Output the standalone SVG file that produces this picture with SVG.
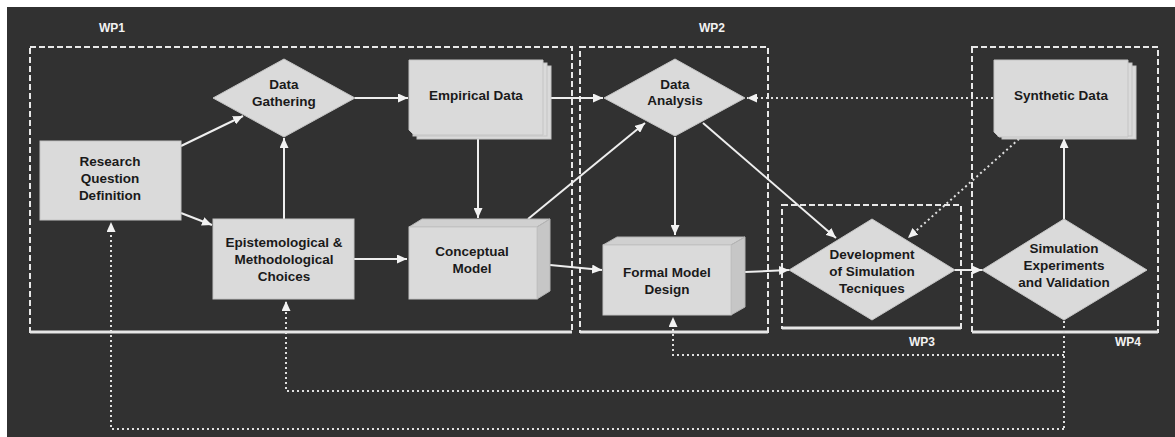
<svg xmlns="http://www.w3.org/2000/svg" width="1175" height="437" viewBox="0 0 1175 437">
<style>
.bg{fill:#313131}
.wp{fill:none;stroke:#e8e8e8;stroke-width:2;stroke-dasharray:6 3}
.wpb{stroke:#e6e6e6;stroke-width:3}
.wpl{font-family:"Liberation Sans",Arial,sans-serif;font-weight:bold;font-size:12px;fill:#f2f2f2;text-anchor:middle}
.n{fill:#dadada;stroke:#c4c4c4;stroke-width:1}
.side{fill:#c6c6c6;stroke:#b4b4b4;stroke-width:1}
.top{fill:#d0d0d0;stroke:#b4b4b4;stroke-width:1}
.t{font-family:"Liberation Sans",Arial,sans-serif;font-weight:bold;font-size:13.5px;fill:#1a1a1a;text-anchor:middle}
.c{fill:none;stroke:#eeeeee;stroke-width:2;marker-end:url(#arr)}
.d{fill:none;stroke:#e0e0e0;stroke-width:2;stroke-dasharray:2 3}
.da{fill:none;stroke:#e0e0e0;stroke-width:2;stroke-dasharray:2 3;marker-end:url(#arr)}
</style>
<defs>
<marker id="arr" markerUnits="userSpaceOnUse" markerWidth="10" markerHeight="9" refX="10" refY="4.5" orient="auto" viewBox="0 0 10 9">
<path d="M0,0 L10,4.5 L0,9 z" fill="#f2f2f2"/>
</marker>
</defs>
<rect x="0" y="0" width="1175" height="437" fill="#ffffff"/>
<rect class="bg" x="7" y="7" width="1168" height="430"/>

<g id="wp1">
<rect class="wp" x="30" y="47" width="542" height="285"/>
<line class="wpb" x1="30" y1="332" x2="572" y2="332"/>
<text class="wpl" x="112" y="32">WP1</text>
</g>
<g id="wp2">
<rect class="wp" x="580" y="47" width="188" height="285"/>
<line class="wpb" x1="580" y1="332" x2="768" y2="332"/>
<text class="wpl" x="712" y="32">WP2</text>
</g>
<g id="wp3">
<rect class="wp" x="782" y="205" width="179" height="123"/>
<line class="wpb" x1="782" y1="328" x2="961" y2="328"/>
<text class="wpl" x="922" y="346">WP3</text>
</g>
<g id="wp4">
<rect class="wp" x="972" y="47" width="186" height="285"/>
<line class="wpb" x1="972" y1="332" x2="1158" y2="332"/>
<text class="wpl" x="1128" y="346">WP4</text>
</g>

<g id="connectors">
<line class="c" x1="181" y1="146" x2="243" y2="116"/>
<line class="c" x1="181" y1="213" x2="212" y2="225"/>
<line class="c" x1="284" y1="219" x2="284" y2="138"/>
<line class="c" x1="355" y1="98" x2="408" y2="98"/>
<line class="c" x1="549" y1="98" x2="603" y2="98"/>
<line class="c" x1="478" y1="137" x2="478" y2="218"/>
<line class="c" x1="528" y1="219" x2="645" y2="123"/>
<line class="c" x1="354" y1="259" x2="407" y2="259"/>
<line class="c" x1="550" y1="265" x2="602" y2="270"/>
<line class="c" x1="675" y1="137" x2="675" y2="235"/>
<line class="c" x1="703" y1="123" x2="836" y2="238"/>
<line class="c" x1="745" y1="272" x2="789" y2="270"/>
<line class="c" x1="955" y1="270" x2="982" y2="270"/>
<line class="c" x1="1064" y1="219" x2="1064" y2="138"/>
<line class="da" x1="993" y1="98" x2="747" y2="98"/>
<line class="da" x1="1019" y1="139" x2="908" y2="238"/>
<path class="d" d="M1064,321 L1064,429"/>
<path class="da" d="M1064,355 L673,355 L673,317"/>
<path class="da" d="M1064,391 L286,391 L286,301"/>
<path class="da" d="M1064,429 L111,429 L111,222"/>
</g>

<g id="research-question">
<rect class="n" x="40" y="141" width="141" height="79"/>
<text class="t" x="110" y="166">Research</text>
<text class="t" x="110" y="183">Question</text>
<text class="t" x="110" y="200">Definition</text>
</g>

<g id="data-gathering">
<polygon class="n" points="213,98 284,59 355,98 284,137"/>
<text class="t" x="284" y="89">Data</text>
<text class="t" x="284" y="106">Gathering</text>
</g>

<g id="empirical-data">
<rect class="n" x="417" y="66" width="134" height="73"/>
<rect class="n" x="413" y="63" width="134" height="73"/>
<path class="n" d="M409,60 L543,60 L543,135 L414,135 L409,130 z"/>
<text class="t" x="476" y="100">Empirical Data</text>
</g>

<g id="data-analysis">
<polygon class="n" points="604,98 675,59 745,98 675,136"/>
<text class="t" x="675" y="89">Data</text>
<text class="t" x="675" y="105">Analysis</text>
</g>

<g id="synthetic-data">
<rect class="n" x="1002" y="66" width="134" height="73"/>
<rect class="n" x="998" y="63" width="134" height="73"/>
<path class="n" d="M994,60 L1128,60 L1128,137 L999,137 L994,132 z"/>
<text class="t" x="1061" y="100">Synthetic Data</text>
</g>

<g id="epistemological-choices">
<rect class="n" x="213" y="219" width="141" height="80"/>
<text class="t" x="284" y="247">Epistemological &amp;</text>
<text class="t" x="284" y="264">Methodological</text>
<text class="t" x="284" y="281">Choices</text>
</g>

<g id="conceptual-model">
<polygon class="top" points="409,227 422,219 550,219 537,227"/>
<polygon class="side" points="537,227 550,219 550,291 537,299"/>
<rect class="n" x="409" y="227" width="128" height="72"/>
<text class="t" x="472" y="256">Conceptual</text>
<text class="t" x="472" y="273">Model</text>
</g>

<g id="formal-model-design">
<polygon class="top" points="603,245 617,237 745,237 731,245"/>
<polygon class="side" points="731,245 745,237 745,307 731,315"/>
<rect class="n" x="603" y="245" width="128" height="70"/>
<text class="t" x="667" y="277">Formal Model</text>
<text class="t" x="667" y="294">Design</text>
</g>

<g id="development-simulation">
<polygon class="n" points="789,270 872,219 955,270 872,320"/>
<text class="t" x="872" y="259">Development</text>
<text class="t" x="872" y="276">of Simulation</text>
<text class="t" x="872" y="293">Tecniques</text>
</g>

<g id="simulation-experiments">
<polygon class="n" points="982,270 1064,219 1147,270 1064,320"/>
<text class="t" x="1064" y="253">Simulation</text>
<text class="t" x="1064" y="270">Experiments</text>
<text class="t" x="1064" y="287">and Validation</text>
</g>
</svg>
